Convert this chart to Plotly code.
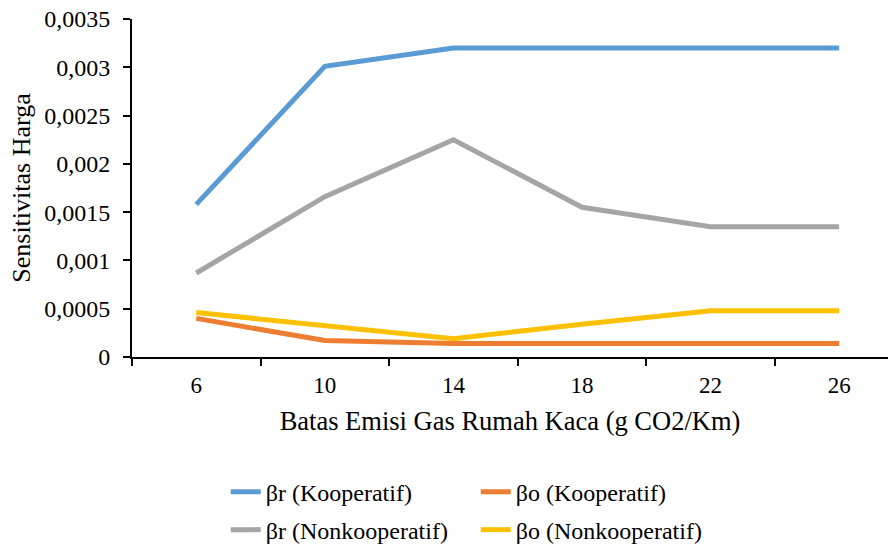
import plotly.graph_objects as go

categories = ["6", "10", "14", "18", "22", "26"]
br_koop = [0.00158, 0.00301, 0.00320, 0.00320, 0.00320, 0.00320]
bo_koop = [0.00040, 0.00017, 0.00014, 0.00014, 0.00014, 0.00014]
br_nonkoop = [0.00087, 0.00166, 0.00225, 0.00155, 0.00135, 0.00135]
bo_nonkoop = [0.00046, 0.00032, 0.00019, 0.00034, 0.00048, 0.00048]
y_ticks = [0, 0.0005, 0.001, 0.0015, 0.002, 0.0025, 0.003, 0.0035]
y_ticktext = ["0", "0,0005", "0,001", "0,0015", "0,002", "0,0025", "0,003", "0,0035"]

series = [
    ("βr (Kooperatif)", br_koop, "#5B9BD5", "legend"),
    ("βo (Kooperatif)", bo_koop, "#ED7D31", "legend"),
    ("βr (Nonkooperatif)", br_nonkoop, "#A5A5A5", "legend2"),
    ("βo (Nonkooperatif)", bo_nonkoop, "#FFC000", "legend2"),
]

font = "Times New Roman, Liberation Serif, serif"
fig = go.Figure()
for name, vals, color, lg in [series[0], series[2], series[1], series[3]]:
    fig.add_trace(go.Scatter(x=categories, y=vals, mode="lines", name=name,
                             line=dict(color=color, width=5), legend=lg))

fig.update_layout(
    width=893, height=550,
    margin=dict(l=132, r=5, t=19, b=193, autoexpand=False),
    paper_bgcolor="white", plot_bgcolor="white",
    font=dict(family=font, size=22, color="black"),
    showlegend=True,
    legend=dict(orientation="h", x=0.124, y=-0.40, xanchor="left", yanchor="middle",
                traceorder="normal", entrywidth=205, entrywidthmode="pixels",
                itemwidth=30, font=dict(family=font, size=24)),
    legend2=dict(orientation="h", x=0.124, y=-0.512, xanchor="left", yanchor="middle",
                 traceorder="normal", entrywidth=205, entrywidthmode="pixels",
                 itemwidth=30, font=dict(family=font, size=24)),
)
fig.update_xaxes(type="category", range=[-0.5, 5.38], tickson="boundaries",
                 ticks="outside", ticklen=7, tickwidth=1.5, tickcolor="black",
                 showline=True, linecolor="black", linewidth=2, showgrid=False,
                 tickfont=dict(family=font, size=23), ticklabelstandoff=6,
                 title=dict(text="Batas Emisi Gas Rumah Kaca (g CO2/Km)", font=dict(family=font, size=26.5), standoff=15))
fig.update_yaxes(range=[0, 0.0035], tickvals=y_ticks, ticktext=y_ticktext,
                 ticks="outside", ticklen=7, tickwidth=1.5, tickcolor="black",
                 showline=True, linecolor="black", linewidth=2, showgrid=False, zeroline=False,
                 tickfont=dict(family=font, size=24), ticklabelstandoff=8,
                 title=dict(text="Sensitivitas Harga", font=dict(family=font, size=26), standoff=6))

fig.write_html("out.html")
